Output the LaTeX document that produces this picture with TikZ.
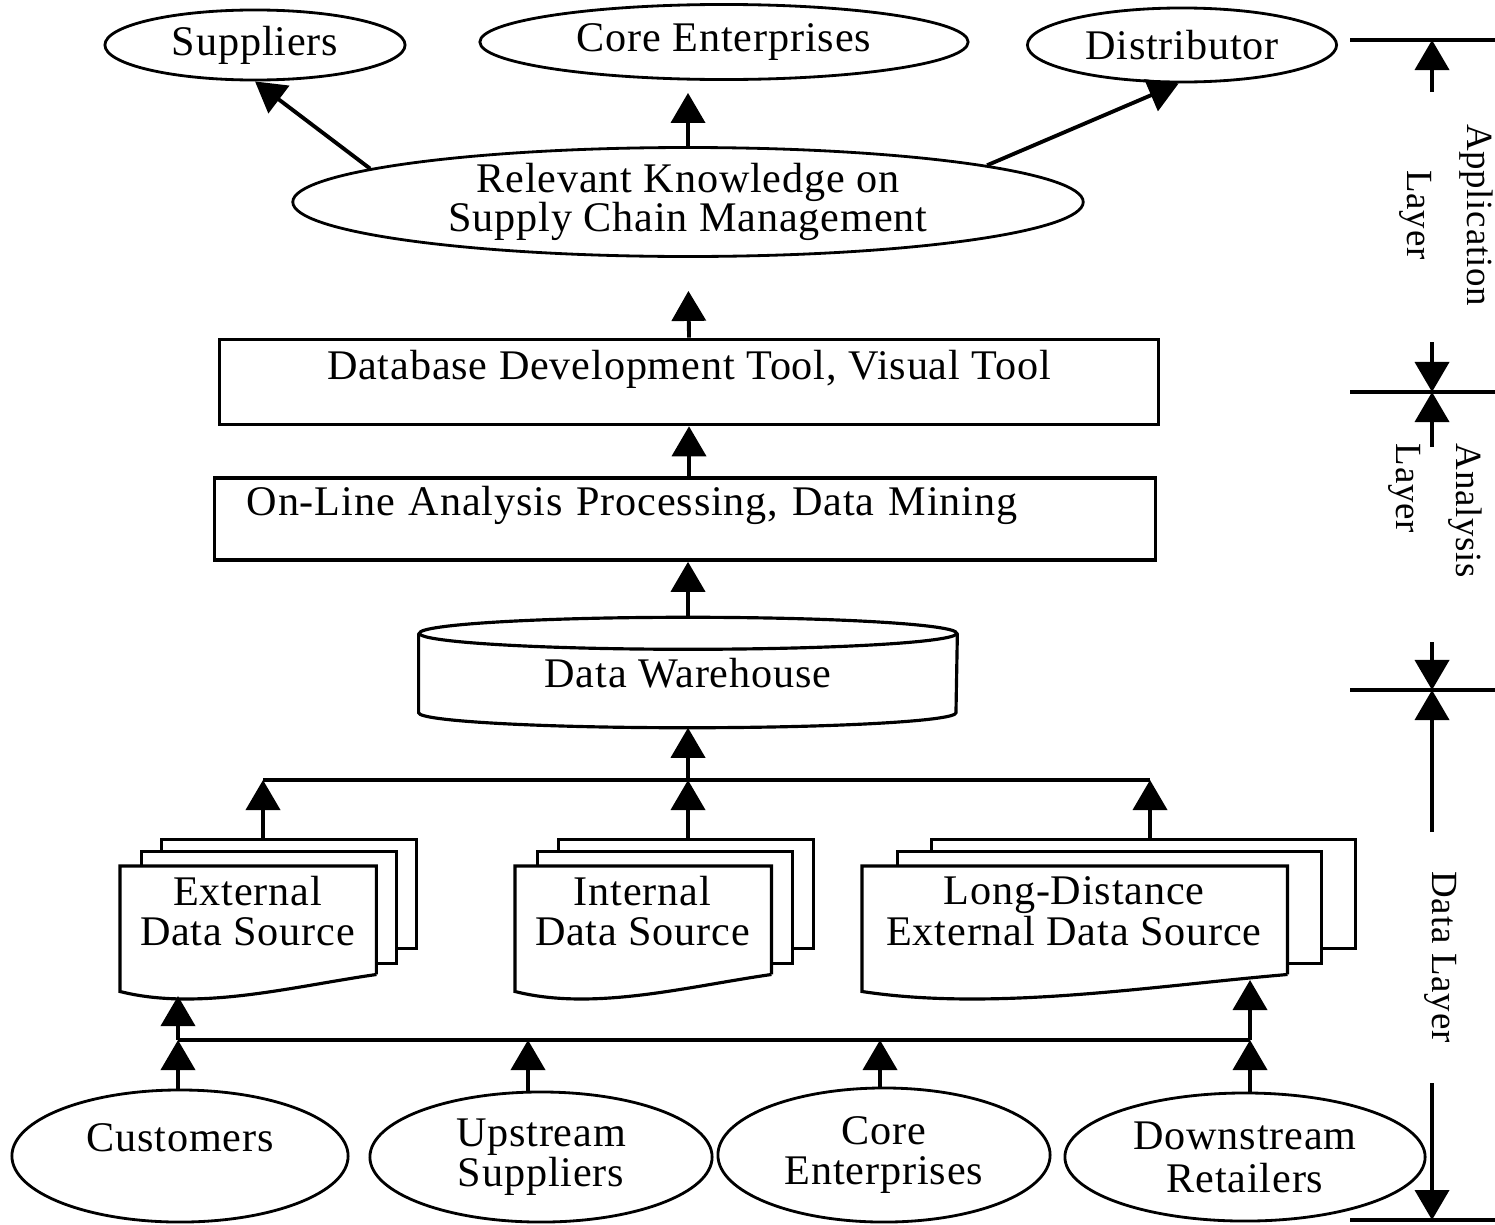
\documentclass[tikz,border=0pt]{standalone}
\usepackage{fontspec}
\setmainfont{Liberation Serif}[LetterSpace=2]
\usetikzlibrary{shapes.geometric, arrows.meta, calc}

\begin{document}
\begin{tikzpicture}[x=0.01cm, y=-0.01cm,
	font=\fontsize{12}{11.5}\selectfont,
	oval/.style={ellipse, draw, line width=0.8pt, inner sep=0, align=center},
	box/.style={rectangle, draw, line width=1pt, inner ysep=0},
	page/.style={rectangle, draw, fill=white, line width=0.9pt, inner sep=0},
	arr/.style={-{Triangle[width=0.34cm, length=0.3cm]}, line width=1.1pt},
	bus/.style={line width=1pt},
	side/.style={rotate=-90, font=\fontsize{10.5}{11}\selectfont}]
	\useasboundingbox (0,0) rectangle (1495,1224);

	% application layer
	\node[oval, minimum width=3cm, minimum height=0.7cm] (sup) at (255,45) {Suppliers};
	\node[oval, minimum width=4.88cm, minimum height=0.75cm] (core) at (724,42) {Core Enterprises};
	\node[oval, minimum width=3.09cm, minimum height=0.74cm] (dist) at (1182,45) {Distributor};
	\node[oval, minimum width=7.9cm, minimum height=1.05cm] (rk) at (688,202) {Relevant Knowledge on\\[-0.5pt]Supply Chain Management};

	\draw[arr] (rk.174) -- (sup.south);
	\draw[arr, shorten >=0.12cm] (rk.north) -- (rk.north |- core.south);
	\draw[arr] (rk.7) -- (dist.-95);

	% analysis layer
	\node[box, minimum width=9.38cm, text height=0.4cm, text depth=0.45cm] (db) at (689,382) {Database Development Tool, Visual Tool};
	\node[box, text width=8.76cm, inner xsep=0.32cm, align=left, text height=0.37cm, text depth=0.45cm] (olap) at (685,519) {On-Line Analysis Processing, Data Mining};

	\draw[arr, shorten >=0.33cm] (db.north) -- (rk.south);
	\draw[arr] (db.south |- olap.north) -- (db.south);

	% data layer
	\node[minimum width=5.37cm, minimum height=0.78cm, inner sep=0] (dw) at (688,673) {Data Warehouse};
	\draw[line width=0.9pt] (dw.north) ellipse[x radius=2.685cm, y radius=0.16cm];
	\draw[line width=0.9pt] (dw.north west) -- (dw.south west) arc[start angle=180, end angle=360, x radius=2.685cm, y radius=0.15cm] -- (dw.north east);
	\draw[arr] ([yshift=0.16cm]dw.north) -- (dw.north |- olap.south);

	\foreach \nm/\xl/\pw/\dx/\lbl in {ext/120/255/20/{External\\Data Source},
		int/515/255/21/{Internal\\Data Source},
		far/862/424/34/{Long-Distance\\External Data Source}}{
		\node[page, minimum width=\pw*0.01cm, minimum height=1.09cm, anchor=north west] (\nm3) at (\xl+2*\dx,838) {};
		\node[page, minimum width=\pw*0.01cm, minimum height=1.12cm, anchor=north west] (\nm2) at (\xl+\dx,850) {};
		\node[minimum width=\pw*0.01cm, minimum height=1.07cm, anchor=north west, inner sep=0] (\nm) at (\xl,866) {};
		\draw[fill=white, line width=0.9pt] (\nm.south east) -- (\nm.north east) -- (\nm.north west) -- ([yshift=-0.17cm]\nm.south west)
			.. controls +(0.31*\pw,20) and +(-0.33*\pw,12) .. (\nm.south east);
		\node[align=center] (t\nm) at (\xl+\pw/2,911) {\lbl};
	}

	% upper bus
	\coordinate (t1) at (263,780);
	\coordinate (t2) at (688,780);
	\coordinate (t3) at (1150,780);
	\draw[bus] (t1) -- (t3);
	\draw[arr] (t1 |- ext3.north) -- (t1);
	\draw[arr] (t2 |- int3.north) -- (t2);
	\draw[arr] (t3 |- far3.north) -- (t3);
	\draw[arr] (t2) -- ([yshift=-0.15cm]dw.south);

	% sources
	\node[oval, minimum width=3.36cm, minimum height=1.32cm, text depth=0.36cm] (cust) at (180,1156) {Customers};
	\node[oval, minimum width=3.42cm, minimum height=1.3cm] (up) at (541,1157) {Upstream\\Suppliers};
	\node[oval, minimum width=3.32cm, minimum height=1.34cm] (coreb) at (884,1155) {Core\\Enterprises};
	\node[oval, minimum width=3.6cm, minimum height=1.28cm] (down) at (1245,1157) {Downstream\\[0.7pt]Retailers};

	% lower bus
	\coordinate (b1) at (178,1040);
	\coordinate (b2) at (528,1040);
	\coordinate (b3) at (880,1040);
	\coordinate (b4) at (1250,1040);
	\coordinate (e1) at (178,996);
	\coordinate (f1) at (1250,980);
	\draw[bus] (b1) -- (b4);
	\draw[arr] (b1 |- cust.north) -- (b1);
	\draw[arr] (b2 |- up.north) -- (b2);
	\draw[arr] (b3 |- coreb.north) -- (b3);
	\draw[arr] (b4 |- down.north) -- (b4);
	\draw[arr] (b1) -- (e1);
	\draw[arr] (b4) -- (f1);

	% layer scale
	\foreach \y in {40,392,690,1220}
		\draw[line width=1pt] (1350,\y) -- (1495,\y);
	\draw[arr] (1432,92) -- (1432,40);
	\draw[arr] (1432,342) -- (1432,392);
	\draw[arr] (1432,447) -- (1432,392);
	\draw[arr] (1432,642) -- (1432,690);
	\draw[arr] (1432,832) -- (1432,690);
	\draw[arr] (1432,1083) -- (1432,1220);
	\node[side, align=center] (lapp) at (1446,215) {Application\\[6pt]Layer};
	\node[side, align=left] (lana) at (1435,511) {Analysis\\[6pt]Layer};
	\node[side] (ldat) at (1441,957) {Data Layer};
\end{tikzpicture}
\end{document}
